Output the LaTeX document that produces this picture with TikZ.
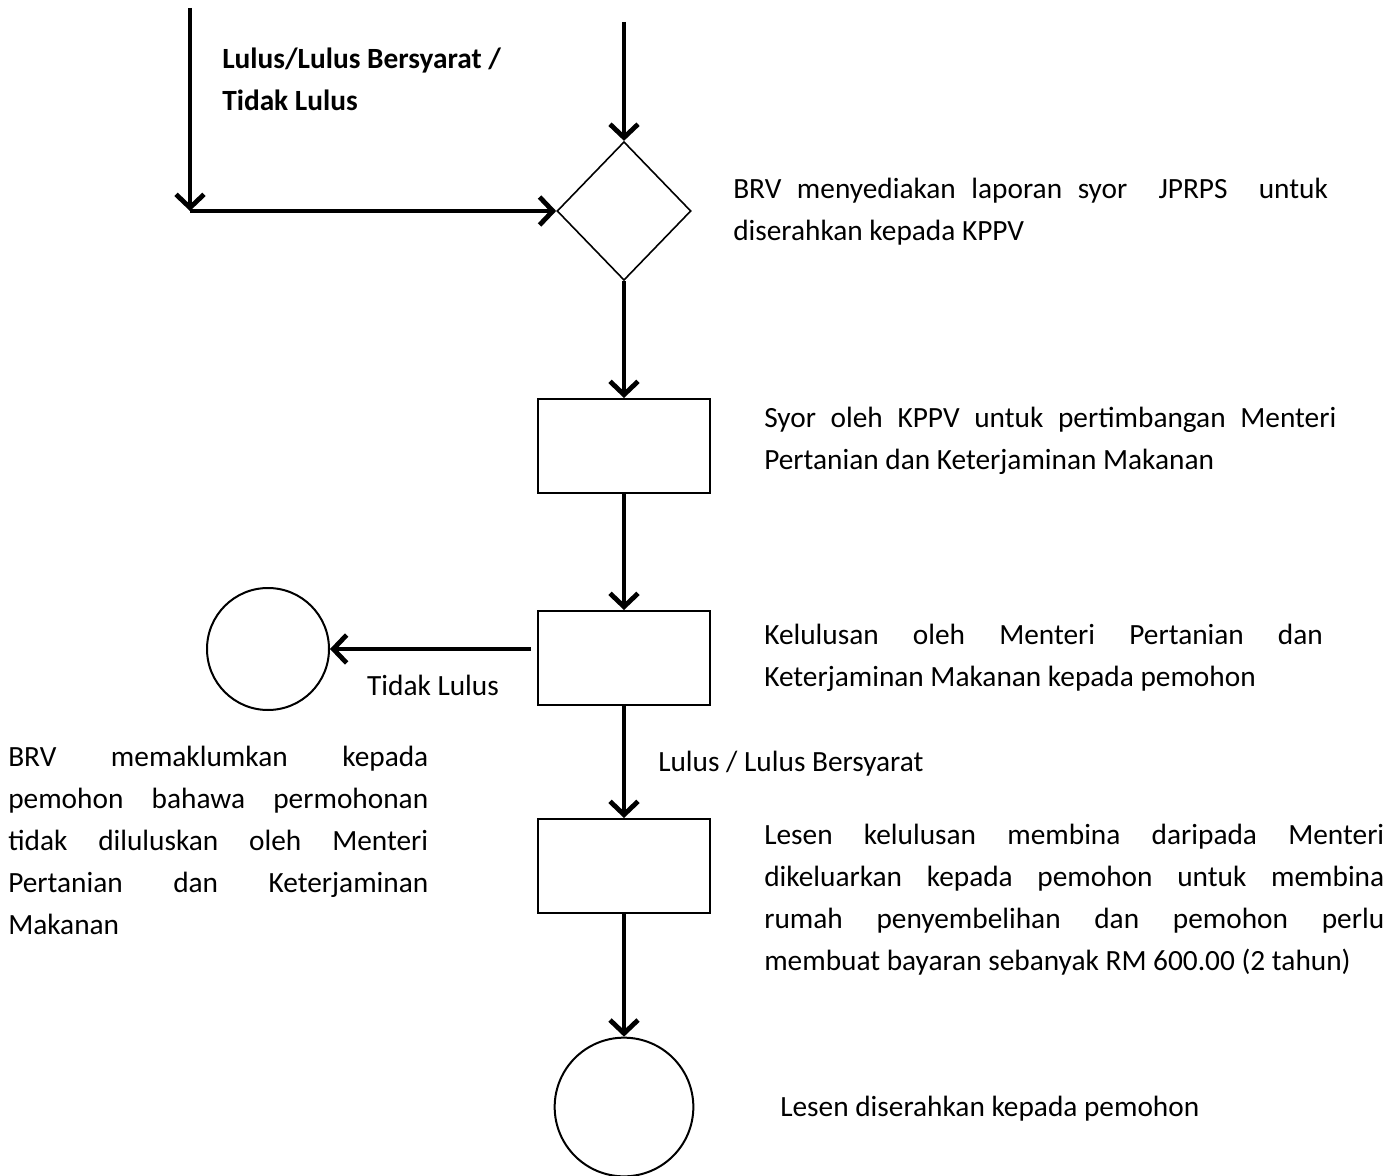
\documentclass[tikz,border=0pt]{standalone}
\usepackage{fontspec}
\setmainfont{Carlito}
\usetikzlibrary{arrows.meta,shapes.geometric}
\hyphenpenalty=10000
\exhyphenpenalty=10000

\begin{document}
\begin{tikzpicture}[
		x=0.75pt, y=-0.75pt,
		every node/.style={inner sep=0pt, font=\fontsize{22}{31.5}\selectfont},
		flow/.style={line width=3.6pt, -{Straight Barb[length=10pt, width=21pt, line width=3.6pt]}},
		box/.style={rectangle, draw, line width=1.5pt, minimum width=129pt, minimum height=70.5pt},
		dec/.style={diamond, draw, line width=1.2pt, minimum width=100.5pt, minimum height=104pt},
		term/.style={circle, draw, line width=1.5pt},
		note/.style={anchor=base west, align=justify}
	]
  \useasboundingbox (0,0) rectangle (1398,1176);
  % flow
  \coordinate (in_l) at (190,8);
  \coordinate (corner) at (190,211);
  \coordinate (in_r) at (624,22);
  \node (brv) [dec] at (624,211) {};
  \node (syor) [box] at (624,446) {};
  \node (lulus) [box] at (624,658) {};
  \node (lesen) [box] at (624,866) {};
  \node (tolak) [term, minimum size=91.5pt] at (268,649) {};
  \node (serah) [term, minimum size=104pt] at (624,1107) {};
  \draw [flow] (in_l) -- (corner);
  \draw [flow] (corner) -- (brv.west);
  \draw [flow] (in_r) -- (brv.north);
  \draw [flow] (brv.south) -- (syor.north);
  \draw [flow] (syor.south) -- (lulus.north);
  \draw [flow, shorten <=4.5pt] (tolak.east -| lulus.west) -- (tolak.east);
  \draw [flow] (lulus.south) -- (lesen.north);
  \draw [flow] (lesen.south) -- (serah.north);
  % labels
  \node (keputusan) [anchor=base west, align=left, font=\fontsize{22}{31.5}\selectfont\bfseries] at (222,111) {Lulus/Lulus Bersyarat /\\Tidak Lulus};
  \node (tidak) [anchor=base] at (433,695) {Tidak Lulus};
  \node (lulus_l) [anchor=base west] at (658,771) {Lulus / Lulus Bersyarat};
  % notes
  \node (n_brv) [note, text width=446pt] at (733,199) {BRV menyediakan laporan syor \ JPRPS \ untuk\linebreak diserahkan kepada KPPV};
  \node (n_syor) [note, text width=429pt] at (764,427) {Syor oleh KPPV untuk pertimbangan Menteri\linebreak Pertanian dan Keterjaminan Makanan};
  \node (n_lulus) [note, text width=419pt] at (764,644) {Kelulusan oleh Menteri Pertanian dan\linebreak Keterjaminan Makanan kepada pemohon};
  \node (n_lesen) [note, text width=465pt] at (764,844) {Lesen kelulusan membina daripada Menteri\linebreak dikeluarkan kepada pemohon untuk membina\linebreak rumah penyembelihan dan pemohon perlu\linebreak membuat bayaran sebanyak RM 600.00 (2 tahun)};
  \node (n_serah) [anchor=base west] at (780,1116) {Lesen diserahkan kepada pemohon};
  \node (n_tolak) [note, text width=315pt] at (8,766) {BRV memaklumkan kepada\linebreak pemohon bahawa permohonan\linebreak tidak diluluskan oleh Menteri\linebreak Pertanian dan Keterjaminan\linebreak Makanan};
\end{tikzpicture}
\end{document}
